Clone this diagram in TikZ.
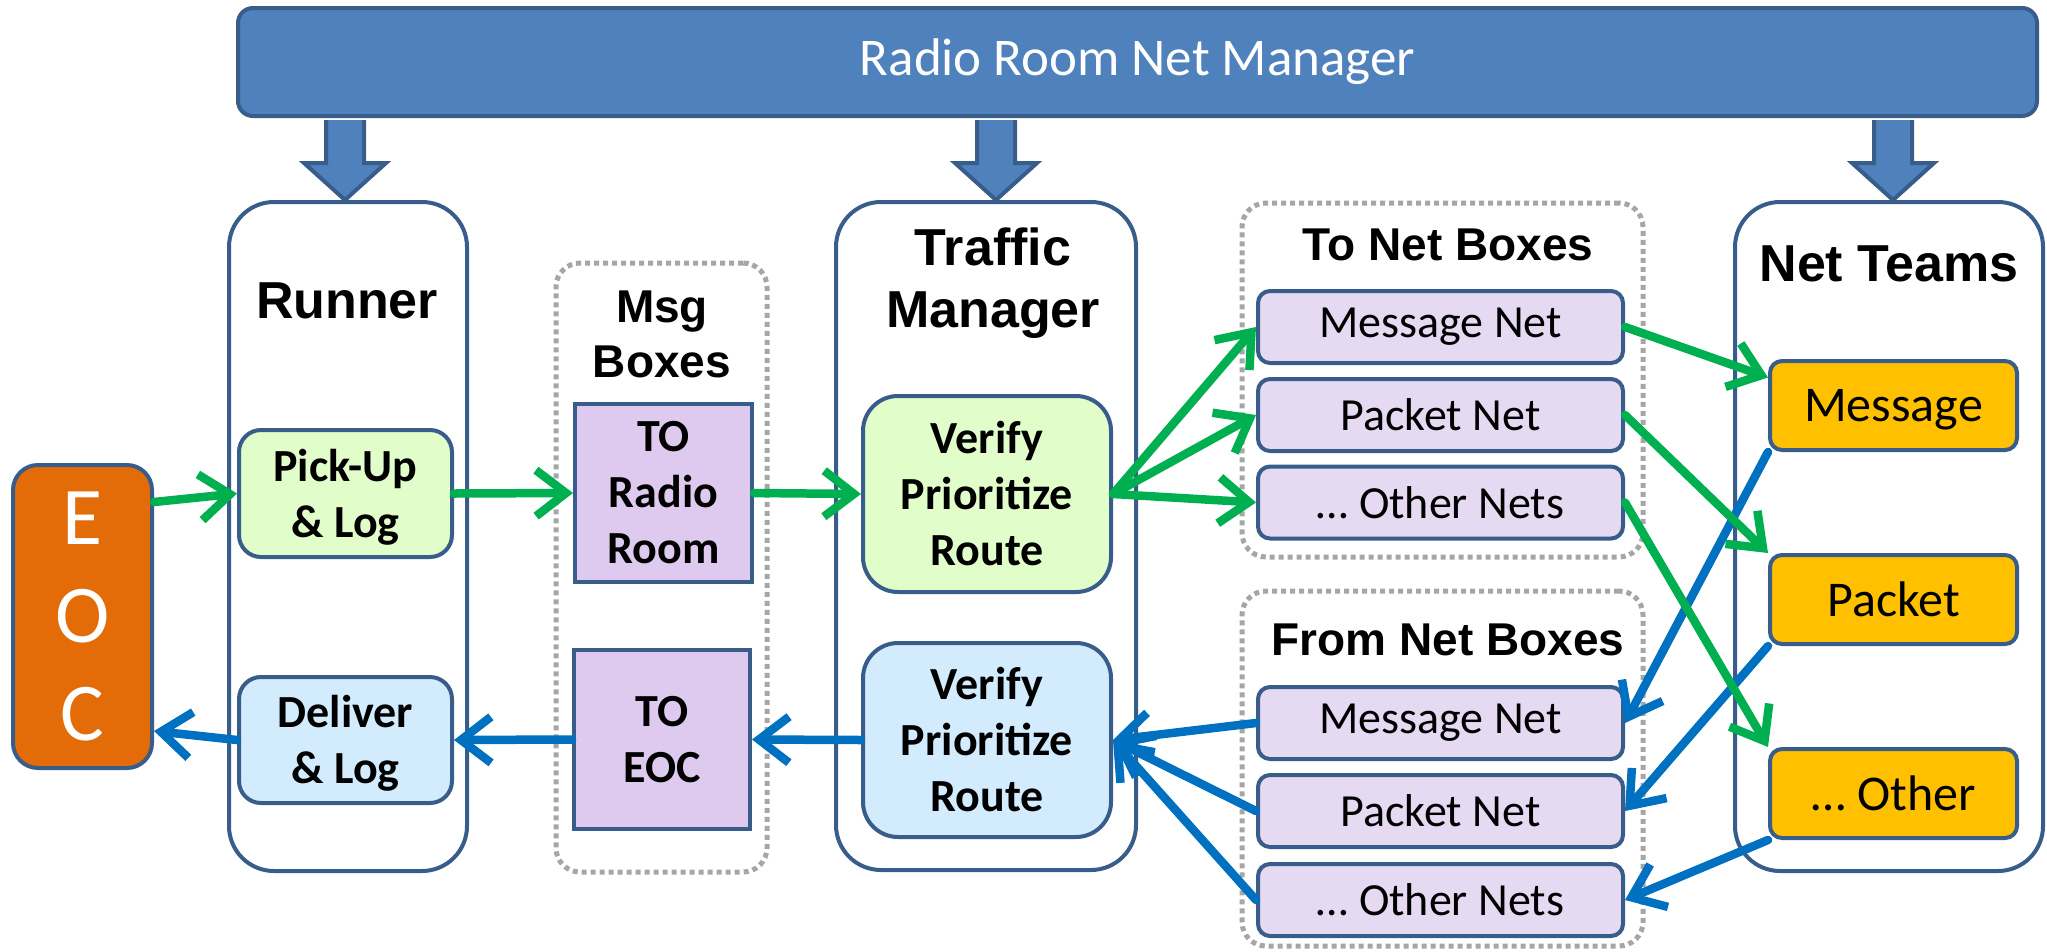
\documentclass[tikz,border=0pt]{standalone}
\usepackage{fontspec}
\setmainfont{Carlito}
\newfontfamily\hfont{Liberation Sans}
\usetikzlibrary{arrows.meta,calc}
\definecolor{bord}{HTML}{385D8A}
\definecolor{barfill}{HTML}{4F81BD}
\definecolor{eocfill}{HTML}{E36C09}
\definecolor{gfill}{HTML}{E1FDC9}
\definecolor{bfill}{HTML}{D3ECFD}
\definecolor{pfill}{HTML}{DDCAEE}
\definecolor{nfill}{HTML}{E5DAF2}
\definecolor{ofill}{HTML}{FFC000}
\definecolor{garrow}{HTML}{00B050}
\definecolor{barrow}{HTML}{0070C0}
\definecolor{dotgray}{HTML}{A6A6A6}
\begin{document}
\begin{tikzpicture}[x=1pt,y=-1pt,
  box/.style={draw=bord, line width=4pt, align=center, inner sep=0pt},
  lane/.style={box, fill=white, rounded corners=45pt},
  group/.style={draw=dotgray, line width=5pt, dash pattern=on 5pt off 4pt, rounded corners=24pt, inner sep=0pt},
  title/.style={font=\hfont\bfseries\fontsize{52}{62}\selectfont, align=center, inner sep=0pt, anchor=base},
  subtitle/.style={font=\hfont\bfseries\fontsize{46}{55}\selectfont, align=center, inner sep=0pt, anchor=base},
  proc/.style={box, font=\bfseries\fontsize{46}{56}\selectfont},
  sq/.style={box, fill=pfill, font=\bfseries\fontsize{46}{56}\selectfont},
  net/.style={box, fill=nfill, rounded corners=12pt, minimum width=365pt, minimum height=72pt, font=\fontsize{46}{52}\selectfont},
  team/.style={box, fill=ofill, rounded corners=12pt, minimum width=247pt, minimum height=89pt, text depth=0pt, font=\fontsize{50}{60}\selectfont},
  flow/.style={line width=8.5pt, line cap=round, line join=round, -{Straight Barb[length=30pt,width=46pt]}},
  gflow/.style={flow, draw=garrow},
  bflow/.style={flow, draw=barrow},
  blockarrow/.style={fill=barfill, draw=bord, line width=4pt, line join=miter},
]
\useasboundingbox (0,0) rectangle (2047,951);

% top bar
\node[box, fill=barfill, rounded corners=15pt, minimum width=1799pt, minimum height=108pt, text=white, font=\fontsize{53}{63}\selectfont] (bar) at (1137.5,62) {Radio Room Net Manager};

% EOC
\node[box, fill=eocfill, rounded corners=25pt, minimum width=139pt, minimum height=303pt, text=white, font=\fontsize{82}{98}\selectfont] (eoc) at (82.5,616.5) {E\\O\\C};

% Runner lane
\node[lane, minimum width=238pt, minimum height=669pt] (runner) at (348,536.5) {};
\node[title] (runnert) at (347,318) {Runner};
\node[proc, fill=gfill, minimum width=213pt, minimum height=127pt, rounded corners=22pt] (pickup) at (345.5,493.5) {Pick-Up\\\& Lo\smash{g}};
\node[proc, fill=bfill, minimum width=213pt, minimum height=126pt, rounded corners=22pt] (deliver) at (345.5,740) {Deliver\\\& Lo\smash{g}};

% Msg boxes
\node[group, minimum width=211pt, minimum height=609pt] (msgg) at (661.5,567.5) {};
\node[subtitle] (msggt) at (662,377) {Msg\\Boxes};
\node[sq, minimum width=177pt, minimum height=178pt] (toradio) at (663.5,493) {TO\\Radio\\Room};
\node[sq, minimum width=176pt, minimum height=179pt] (toeoc) at (662,739.5) {TO\\EOC};

% Traffic manager
\node[lane, minimum width=300pt, minimum height=668pt] (traffic) at (986,536) {};
\node[title] (traffict) at (993,327) {Traffic\\Manager};
\node[proc, fill=gfill, minimum width=248pt, minimum height=196pt, rounded corners=35pt] (verg) at (987,494) {Verify\\Prioritize\\Route};
\node[proc, fill=bfill, minimum width=248pt, minimum height=194pt, rounded corners=35pt] (verb) at (987,740) {Verify\\Prioritize\\Route};

% To Net boxes
\node[group, minimum width=401pt, minimum height=354pt] (tonet) at (1442.5,380) {};
\node[subtitle] (tonett) at (1448,260) {To Net Boxes};
\node[net] (tmsg) at (1440.5,327) {Message Net};
\node[net] (tpkt) at (1440.5,415) {Packet Net};
\node[net] (toth) at (1440.5,502.5) {… Other Nets};

% From Net boxes
\node[group, minimum width=401pt, minimum height=355pt] (fromnet) at (1442.5,768.5) {};
\node[subtitle] (fromnett) at (1448,655) {From Net Boxes};
\node[net] (fmsg) at (1440.5,723) {Message Net};
\node[net] (fpkt) at (1440.5,811) {Packet Net};
\node[net] (foth) at (1440.5,900) {… Other Nets};

% Net teams
\node[lane, minimum width=308pt, minimum height=669pt] (teams) at (1889,536.5) {};
\node[title] (teamst) at (1889,281) {Net Teams};
\node[team] (tm1) at (1893.5,405.5) {Message};
\node[team] (tm2) at (1893.5,599.5) {Packet};
\node[team] (tm3) at (1893.5,793.5) {… Other};

% block arrows from the bar
\foreach \nd/\dx in {runner/-3, traffic/10, teams/4} {
  \draw[blockarrow] let \p1=([xshift=\dx pt]\nd.north), \p2=(bar.south) in
    (\x1-19pt,\y2-2pt) -- (\x1-19pt,\y1+37pt) -- (\x1-41pt,\y1+37pt) -- (\x1,\y1)
    -- (\x1+41pt,\y1+37pt) -- (\x1+19pt,\y1+37pt) -- (\x1+19pt,\y2-2pt);
}

% blue flows
\draw[bflow] (tm1.south west) -- (fmsg.east);
\draw[bflow] (tm2.south west) -- (fpkt.east);
\draw[bflow] (tm3.south west) -- (foth.east);
\draw[bflow] (fmsg.west) -- (verb.east);
\draw[bflow] (fpkt.west) -- (verb.east);
\draw[bflow] (foth.west) -- (verb.east);
\draw[bflow] (verb.west) -- (toeoc.east);
\draw[bflow] (toeoc.west) -- (deliver.east);
\draw[bflow] (deliver.west) -- ([yshift=-114.5pt]eoc.east);

% green flows
\draw[gflow] ([yshift=114.5pt]eoc.east) -- (pickup.west);
\draw[gflow] (pickup.east) -- (toradio.west);
\draw[gflow] (toradio.east) -- (verg.west);
\draw[gflow] (verg.east) -- (tmsg.west);
\draw[gflow] (verg.east) -- (tpkt.west);
\draw[gflow] (verg.east) -- (toth.west);
\draw[gflow] (tmsg.east) -- ([yshift=28pt]tm1.west);
\draw[gflow] (tpkt.east) -- (tm2.north west);
\draw[gflow] (toth.east) -- (tm3.north west);
\end{tikzpicture}
\end{document}
